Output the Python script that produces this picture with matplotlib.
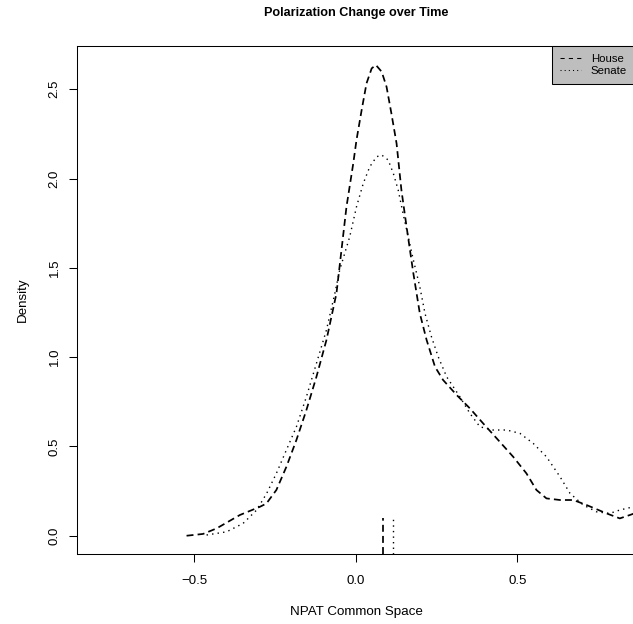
import matplotlib
matplotlib.use("Agg")
import matplotlib.pyplot as plt
from matplotlib.lines import Line2D

plt.rcParams['font.family'] = ['Liberation Sans', 'DejaVu Sans']

# 读取自图中的密度曲线
house_x = [-0.524, -0.473, -0.431, -0.359, -0.297, -0.277, -0.246, -0.215, -0.184, -0.153,
           -0.122, -0.091, -0.060, -0.029, -0.008, 0.002, 0.018, 0.033, 0.049, 0.062,
           0.080, 0.095, 0.110, 0.126, 0.141, 0.157, 0.178, 0.198, 0.219, 0.245,
           0.270, 0.312, 0.353, 0.394, 0.436, 0.487, 0.528, 0.559, 0.590, 0.632,
           0.673, 0.714, 0.776, 0.817, 0.848, 0.870]
house_y = [0.0, 0.010, 0.041, 0.116, 0.162, 0.180, 0.256, 0.386, 0.536, 0.704,
           0.890, 1.096, 1.357, 1.842, 2.085, 2.216, 2.384, 2.533, 2.617, 2.636,
           2.598, 2.514, 2.365, 2.197, 1.936, 1.730, 1.469, 1.245, 1.096, 0.946,
           0.872, 0.788, 0.713, 0.629, 0.545, 0.442, 0.349, 0.256, 0.209, 0.200,
           0.200, 0.172, 0.125, 0.097, 0.116, 0.130]

senate_x = [-0.462, -0.400, -0.349, -0.307, -0.276, -0.246, -0.215, -0.184, -0.153, -0.122,
            -0.091, -0.065, -0.050, -0.019, 0.002, 0.023, 0.043, 0.064, 0.080, 0.100,
            0.116, 0.131, 0.146, 0.162, 0.178, 0.198, 0.214, 0.234, 0.255, 0.281,
            0.322, 0.353, 0.384, 0.425, 0.467, 0.508, 0.549, 0.590, 0.632, 0.663,
            0.704, 0.745, 0.786, 0.817, 0.859, 0.870]
senate_y = [0.004, 0.022, 0.069, 0.144, 0.237, 0.349, 0.480, 0.610, 0.778, 0.965,
            1.152, 1.357, 1.488, 1.674, 1.842, 1.973, 2.066, 2.122, 2.132, 2.104,
            2.029, 1.936, 1.805, 1.674, 1.544, 1.394, 1.245, 1.114, 1.002, 0.890,
            0.778, 0.685, 0.610, 0.592, 0.592, 0.573, 0.517, 0.442, 0.330, 0.237,
            0.172, 0.134, 0.125, 0.144, 0.162, 0.165]

# 均值标记（底部短线）
house_mean = 0.085
senate_mean = 0.116
rug_top = 0.1

x_ticks = [-0.5, 0.0, 0.5]
y_ticks = [0.0, 0.5, 1.0, 1.5, 2.0, 2.5]

W, H = 633, 624
fig = plt.figure(figsize=(W / 100, H / 100), dpi=100)
ax = fig.add_axes([76.7 / W, 1 - 554.3 / H, (635 - 76.7) / W, (554.3 - 45.7) / H])

dash = (0, (4, 2.4))
dot = (0, (1, 3))
ax.plot(house_x, house_y, color='black', lw=1.25, linestyle=dash)
ax.plot(senate_x, senate_y, color='black', lw=1.0, linestyle=dot)

ax.set_xlim(-0.864, 0.864)
ax.set_ylim(-0.104, 2.744)
ymin = ax.get_ylim()[0]
ax.vlines([house_mean], ymin, rug_top, color='black', lw=1.25, linestyle=dash)
ax.vlines([senate_mean], ymin, rug_top, color='black', lw=1.0, linestyle=dot)

ax.set_xticks(x_ticks)
ax.set_yticks(y_ticks)
ax.set_xticklabels(['\u22120.5', '0.0', '0.5'])
ax.set_yticklabels(['%.1f' % v for v in y_ticks])
ax.tick_params(axis='both', length=5.5, width=0.75, labelsize=9.5)
ax.tick_params(axis='x', pad=9.5)
ax.tick_params(axis='y', pad=6)
for lab in ax.get_yticklabels():
    lab.set_rotation(90)
    lab.set_va('center')
for sp in ax.spines.values():
    sp.set_linewidth(0.75)
    sp.set_color('black')

handles = [Line2D([], [], color='black', lw=0.75, linestyle=(0, (4, 4))),
           Line2D([], [], color='black', lw=0.75, linestyle=(0, (1, 3)))]
leg = ax.legend(handles, ['House', 'Senate'], loc='upper right', bbox_to_anchor=(1, 1),
                borderaxespad=0, fontsize=8.2, handlelength=1.8, handletextpad=0.9,
                borderpad=0.7, labelspacing=0.2, fancybox=False, framealpha=1,
                facecolor='#bebebe', edgecolor='black')
leg.get_frame().set_linewidth(0.75)

fig.text(356 / W, 1 - 13 / H, 'Polarization Change over Time', ha='center', va='center',
         fontsize=9.1, fontweight='bold')
fig.text(356 / W, 1 - 612 / H, 'NPAT Common Space', ha='center', va='center', fontsize=9.6)
fig.text(23 / W, 1 - 300 / H, 'Density', ha='center', va='center', rotation=90, fontsize=9.6)

fig.savefig('out.png', dpi=100)
